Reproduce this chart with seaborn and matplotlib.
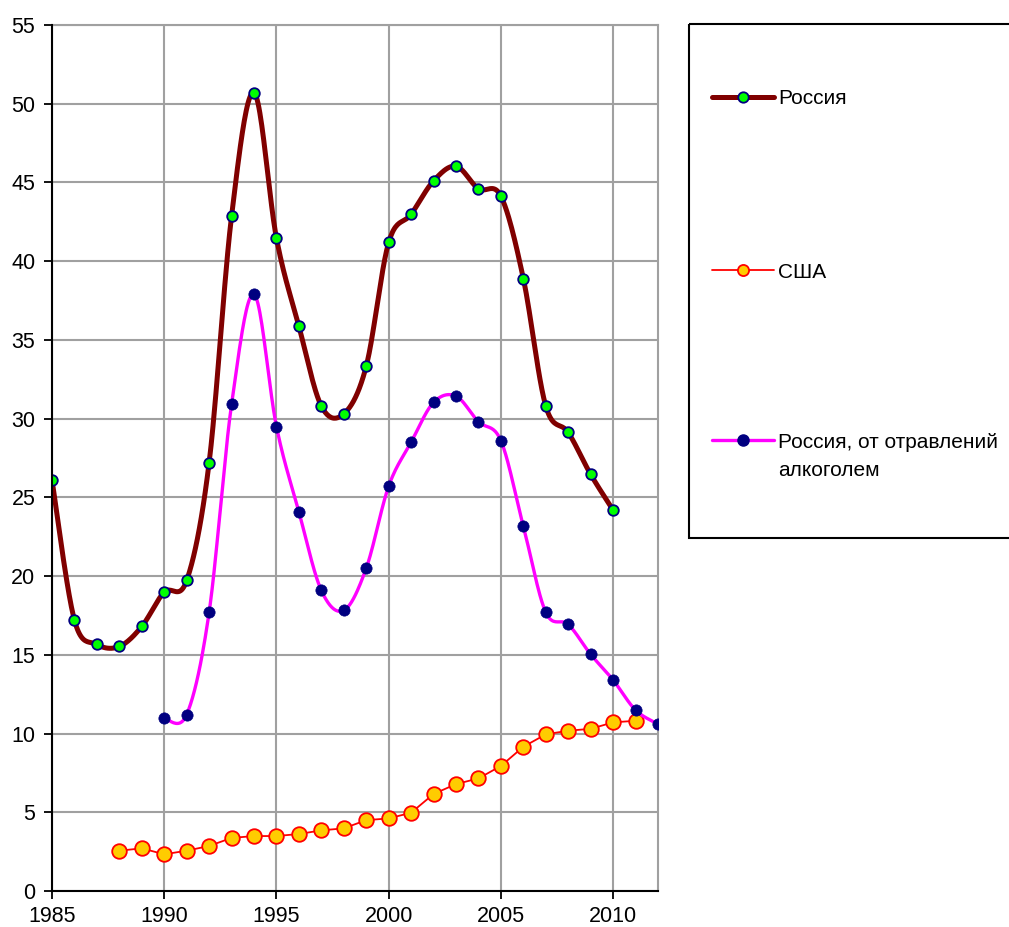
import numpy as np
import pandas as pd
import matplotlib
matplotlib.use("Agg")
import matplotlib.pyplot as plt
import seaborn as sns
from matplotlib.patches import Rectangle

# ---- data ----
years_russia = list(range(1985, 2011))
russia = [26.1, 17.2, 15.66, 15.53, 16.8, 18.98, 19.72, 27.2, 42.86, 50.7,
          41.46, 35.87, 30.8, 30.3, 33.33, 41.19, 42.98, 45.1, 46.03, 44.6,
          44.13, 38.9, 30.8, 29.12, 26.46, 24.19]

years_usa = list(range(1988, 2012))
usa = [2.56, 2.71, 2.33, 2.56, 2.86, 3.37, 3.49, 3.49, 3.62, 3.85, 3.98, 4.5,
       4.61, 4.97, 6.16, 6.79, 7.15, 7.94, 9.16, 9.95, 10.18, 10.3, 10.71, 10.81]

years_poison = list(range(1990, 2013))
poison = [10.96, 11.2, 17.7, 30.9, 37.9, 29.5, 24.08, 19.09, 17.82, 20.5,
          25.71, 28.5, 31.03, 31.43, 29.8, 28.6, 23.17, 17.7, 16.93, 15.03,
          13.4, 11.49, 10.6]

label_russia = "Россия"
label_usa = "США"
label_poison_1 = "Россия, от отравлений"
label_poison_2 = "алкоголем"

xticks = list(range(1985, 2011, 5))
yticks = list(range(0, 56, 5))


def excel_smooth(x, y, n=24):
    """Catmull-Rom style Bezier smoothing (as used by spreadsheet 'smoothed line')."""
    P = np.column_stack([np.asarray(x, float), np.asarray(y, float)])
    Pm = np.vstack([P[0], P, P[-1]])
    t = np.linspace(0, 1, n)[:, None]
    out = []
    for i in range(len(P) - 1):
        p0, p3 = P[i], P[i + 1]
        c1 = p0 + (Pm[i + 2] - Pm[i]) / 6.0
        c2 = p3 - (Pm[i + 3] - Pm[i + 1]) / 6.0
        seg = (1 - t) ** 3 * p0 + 3 * (1 - t) ** 2 * t * c1 + 3 * (1 - t) * t ** 2 * c2 + t ** 3 * p3
        out.append(seg if i == 0 else seg[1:])
    return np.vstack(out)


sns.set_style("white")
plt.rcParams['font.family'] = ['Liberation Sans', 'DejaVu Sans']
plt.rcParams['text.color'] = 'black'
plt.rcParams['xtick.color'] = 'black'
plt.rcParams['ytick.color'] = 'black'

W, H = 1009, 927
fig = plt.figure(figsize=(W / 100, H / 100), dpi=100)
ax = fig.add_axes([52 / W, (H - 891) / H, (658 - 52) / W, (891 - 25) / H])

# Russia (smoothed)
c = excel_smooth(years_russia, russia)
ax.plot(c[:, 0], c[:, 1], color="#800000", lw=3.6, solid_capstyle="round", zorder=3)
sns.scatterplot(x=years_russia, y=russia, ax=ax, color="#00FF00", edgecolor="#000080",
                linewidth=1.3, s=58, zorder=4, legend=False)

# USA (straight)
sns.lineplot(x=years_usa, y=usa, ax=ax, color="#FF0000", lw=1.3, marker="o",
             markersize=10.5, markerfacecolor="#FFCC00", markeredgecolor="#FF0000",
             markeredgewidth=1.3, zorder=5, legend=False, estimator=None)

# Poisoning (smoothed)
c = excel_smooth(years_poison, poison)
ax.plot(c[:, 0], c[:, 1], color="#FF00FF", lw=2.4, solid_capstyle="round", zorder=6)
sns.scatterplot(x=years_poison, y=poison, ax=ax, color="#000080", edgecolor="#000080",
                linewidth=0.5, s=66, zorder=7, legend=False)

ax.set_xlim(1985, 2012)
ax.set_ylim(0, 55)
ax.set_xticks(xticks)
ax.set_yticks(yticks)
ax.set_xticklabels([str(v) for v in xticks])
ax.set_yticklabels([str(v) for v in yticks])
ax.grid(True, color="#A0A0A0", lw=1.5)
ax.set_axisbelow(True)
for s in ["top", "right"]:
    ax.spines[s].set_color("#A0A0A0")
    ax.spines[s].set_linewidth(1.5)
for s in ["left", "bottom"]:
    ax.spines[s].set_color("black")
    ax.spines[s].set_linewidth(1.5)
    ax.spines[s].set_zorder(8)
ax.tick_params(axis="both", direction="out", length=6, width=1.3, color="black",
               labelcolor="black", labelsize=15.5, left=True, bottom=True)
ax.tick_params(axis="y", pad=6)
ax.tick_params(axis="x", pad=5)
ax.set_xlabel("")
ax.set_ylabel("")

# ---- legend (manual box) ----
lx0, ly0, lx1, ly1 = 689, 24, 1016, 538
lax = fig.add_axes([lx0 / W, (H - ly1) / H, (lx1 - lx0) / W, (ly1 - ly0) / H])
lax.set_xlim(0, lx1 - lx0)
lax.set_ylim(ly1 - ly0, 0)
lax.set_axis_off()
lax.add_patch(Rectangle((0, 0), lx1 - lx0, ly1 - ly0, fill=False, ec="black", lw=1.5,
                        transform=lax.transData, clip_on=False))
hx0, hx1, hm, tx = 23, 85, 54, 89
rows = [73, 246, 416]
fs = 15
lax.plot([hx0, hx1], [rows[0], rows[0]], color="#800000", lw=3.6, solid_capstyle="round")
lax.plot([hm], [rows[0]], marker="o", ms=7.5, mfc="#00FF00", mec="#000080", mew=1.3)
lax.text(tx, rows[0] + 2, label_russia, fontsize=fs, va="center", ha="left", color="black")

lax.plot([hx0, hx1], [rows[1], rows[1]], color="#FF0000", lw=1.3)
lax.plot([hm], [rows[1]], marker="o", ms=8, mfc="#FFCC00", mec="#FF0000", mew=1.3)
lax.text(tx, rows[1] + 2, label_usa, fontsize=fs, va="center", ha="left", color="black")

lax.plot([hx0, hx1], [rows[2], rows[2]], color="#FF00FF", lw=2.4)
lax.plot([hm], [rows[2]], marker="o", ms=8, mfc="#000080", mec="#000080")
lax.text(tx, rows[2] + 2, label_poison_1, fontsize=fs, va="center", ha="left", color="black")
lax.text(tx, rows[2] + 30, label_poison_2, fontsize=fs, va="center", ha="left", color="black")

fig.savefig("out.png", dpi=100)
